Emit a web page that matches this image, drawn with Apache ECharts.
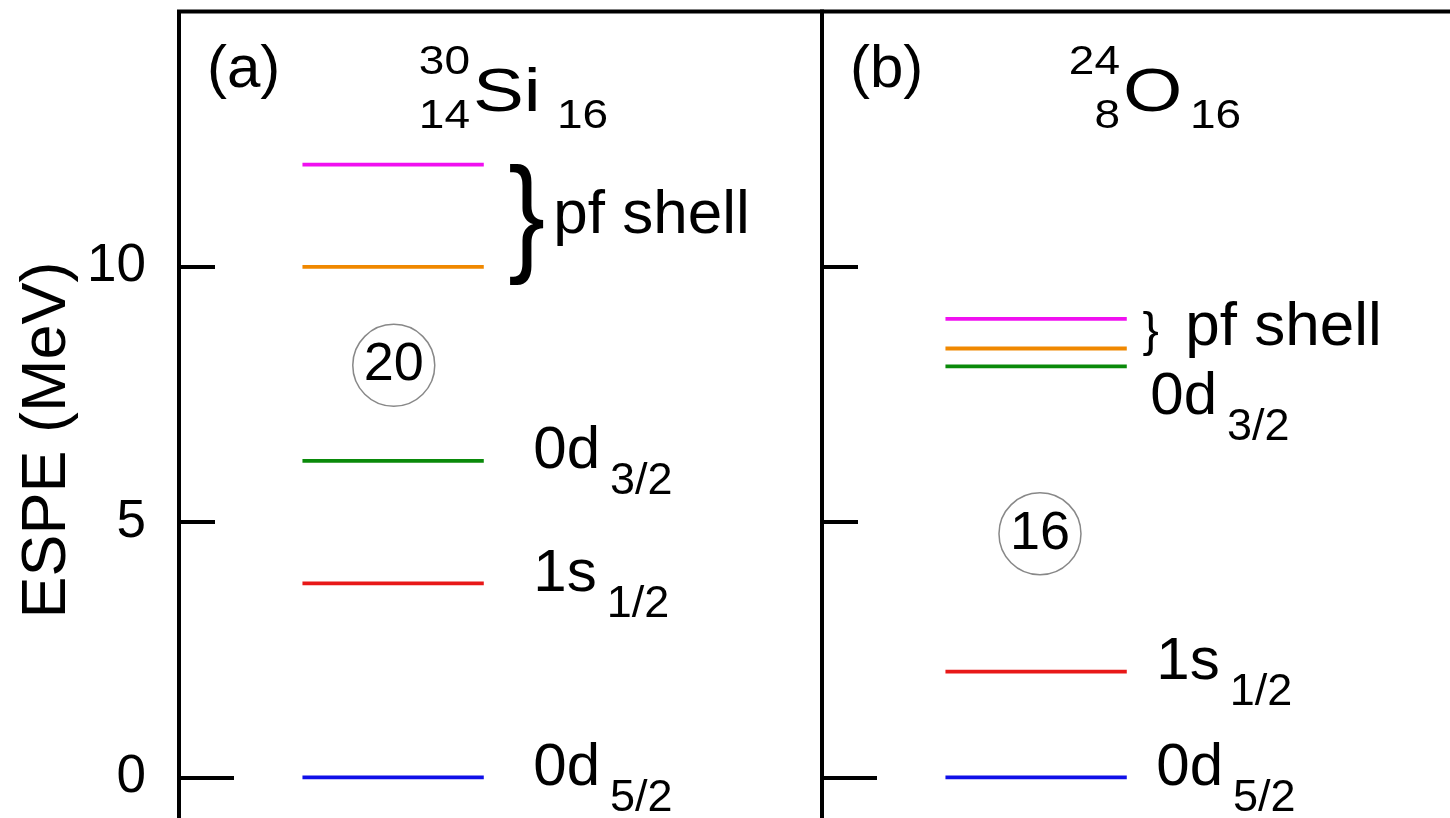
<!DOCTYPE html>
<html><head><meta charset="utf-8">
<script src="https://cdn.jsdelivr.net/npm/echarts@6/dist/echarts.min.js"></script>
<style>html,body{margin:0;padding:0;background:#fff}#c{width:1450px;height:818px}</style>
</head><body><div id="c"></div>
<script>
// ---------- data ----------
const panelTags = ['(a)', '(b)'];
const nucleusA = ['30', '24'];
const nucleusZ = ['14', '8'];
const nucleusN = ['16', '16'];
const nucleusSym = ['Si', 'O'];
const orbitalMain = ['0d', '1s', '0d'];
const orbitalSub = ['5/2', '1/2', '3/2'];
const pfLabel = 'pf shell';
// order: 0d5/2, 1s1/2, 0d3/2, pf (lower), pf (upper)
const siESPE = [0, 3.8, 6.2, 10.0, 12.0];
const oESPE = [0, 2.07, 8.05, 8.4, 8.98];
const levelColors = ['#1010e8', '#e81818', '#0a8a0a', '#f08800', '#f010f0'];
const magicNumbers = ['20', '16'];
const yTickValues = [0, 5, 10];
const yAxisName = 'ESPE (MeV)';

// ---------- layout ----------
const FONT = '"Liberation Sans", Arial, Helvetica, sans-serif';
const Y_MIN = -1, Y_MAX = 15;
const PX_PER_MEV = 51.06;
const GRID_TOP = 11.5;
const GRID_H = (Y_MAX - Y_MIN) * PX_PER_MEV;
const GRID_W = 643;
const GRID_LEFT = [179, 822];
const LEVEL_X = [1.92, 4.74];
const MAGIC_POS = [[3.34, 8.07], [3.39, 4.77]];
const LABEL_GAP = [49, 29];

const panelsESPE = [siESPE, oESPE];

const rich = {
  m: { fontSize: 60, lineHeight: 60, fontFamily: FONT, color: '#000' },
  s: { fontSize: 45, lineHeight: 45, fontFamily: FONT, color: '#000', padding: [60, 0, 0, 10] }
};

const grids = [], xAxes = [], yAxes = [], series = [];
for (let p = 0; p < 2; p++) {
  grids.push({ left: GRID_LEFT[p], top: GRID_TOP, width: GRID_W, height: GRID_H,
    outerBoundsMode: 'none', containLabel: false,
    show: true, borderColor: '#000', borderWidth: 4, backgroundColor: 'transparent' });
  xAxes.push({ type: 'value', gridIndex: p, min: 0, max: 10, show: false });
  yAxes.push({ type: 'value', gridIndex: p, min: Y_MIN, max: Y_MAX, position: 'left',
    axisLine: { show: false }, splitLine: { show: false },
    axisTick: { show: true, inside: true, length: 36, lineStyle: { color: '#000', width: 4 }, customValues: [5, 10] },
    axisLabel: { show: p === 0, customValues: yTickValues, fontSize: 53, fontFamily: FONT, color: '#000', margin: 33 } });
  yAxes.push({ type: 'value', gridIndex: p, min: Y_MIN, max: Y_MAX, position: 'left',
    axisLine: { show: false }, splitLine: { show: false },
    axisTick: { show: true, inside: true, length: 55, lineStyle: { color: '#000', width: 4 }, customValues: [0] },
    axisLabel: { show: false } });

  const esp = panelsESPE[p];
  esp.forEach((e, j) => {
    series.push({ type: 'line', xAxisIndex: p, yAxisIndex: 2 * p, silent: true, symbol: 'none',
      data: [[LEVEL_X[0], e], [LEVEL_X[1], e]],
      lineStyle: { color: levelColors[j], width: 3.8 } });
  });

  // orbital labels
  const labData = [];
  for (let j = 0; j < 3; j++) {
    const below = (p === 1 && j === 2);
    labData.push({ value: [LEVEL_X[1], esp[j]],
      label: { show: true, position: 'right', distance: below ? 23 : LABEL_GAP[p],
        offset: [0, below ? 31 : -9], color: '#000',
        formatter: '{m|' + orbitalMain[j] + '}{s|' + orbitalSub[j] + '}', rich } });
  }
  labData.push({ value: [LEVEL_X[1], (esp[3] + esp[4]) / 2],
    label: { show: true, position: 'right', distance: p === 0 ? 69 : 58, offset: [0, p === 0 ? 0 : -6],
      formatter: pfLabel, fontSize: 62, fontFamily: FONT, color: '#000' } });
  series.push({ type: 'scatter', xAxisIndex: p, yAxisIndex: 2 * p, silent: true,
    symbol: 'circle', symbolSize: 1, itemStyle: { color: 'rgba(0,0,0,0)', opacity: 1 }, data: labData });

  // magic number circle
  series.push({ type: 'scatter', xAxisIndex: p, yAxisIndex: 2 * p, silent: true,
    symbol: 'circle', symbolSize: 82,
    itemStyle: { color: 'rgba(255,255,255,0)', borderColor: '#888', borderWidth: 1.5, opacity: 1 },
    label: { show: true, position: 'inside', formatter: magicNumbers[p], fontSize: 54, fontFamily: FONT, color: '#000' },
    data: [MAGIC_POS[p]] });
}

const chart = echarts.init(document.getElementById('c'), null, { renderer: 'canvas' });
chart.setOption({
  animation: false,
  backgroundColor: '#fff',
  grid: grids, xAxis: xAxes, yAxis: yAxes, series
});

// text annotations (titles, axis name, braces)
const graphic = [];
const txt = (x, y, text, size, align, extra) => Object.assign({ type: 'text', x, y, silent: true,
  style: { text, fontSize: size, fontFamily: FONT, fill: '#000', align: align || 'left', verticalAlign: 'middle' } }, extra || {});

graphic.push(txt(48, 440, yAxisName, 63, 'center', { rotation: Math.PI / 2 }));
const symX = [473, 1123];
const subX = [557, 1190];
for (let p = 0; p < 2; p++) {
  graphic.push(txt(GRID_LEFT[p] + 28, 70, panelTags[p], 60, 'left'));
  graphic.push(txt(symX[p] - 3, 63, nucleusA[p], 40, 'right', { scaleX: 1.15 }));
  graphic.push(txt(symX[p] - 3, 117, nucleusZ[p], 40, 'right', { scaleX: 1.15 }));
  graphic.push(txt(symX[p], 94, nucleusSym[p], 61, 'left', { scaleX: 1.25 }));
  graphic.push(txt(subX[p], 117, nucleusN[p], 40, 'left', { scaleX: 1.15 }));

  // brace spanning pf levels
  const esp = panelsESPE[p];
  const top = chart.convertToPixel({ gridIndex: p }, [LEVEL_X[1], esp[4]]);
  const bot = chart.convertToPixel({ gridIndex: p }, [LEVEL_X[1], esp[3]]);
  const h = (bot[1] - top[1]);
  const big = p === 0;
  const bh = big ? h + 20 : 46;
  const fs = bh / 0.94;
  const cy = (top[1] + bot[1]) / 2 + (big ? 18 : 3);
  graphic.push(txt(top[0] + (big ? 43 : 24), cy - 0.0875 * fs, '}', fs, 'center', { scaleX: big ? 0.85 : 1 }));
}
chart.setOption({ graphic });
</script>
</body></html>
